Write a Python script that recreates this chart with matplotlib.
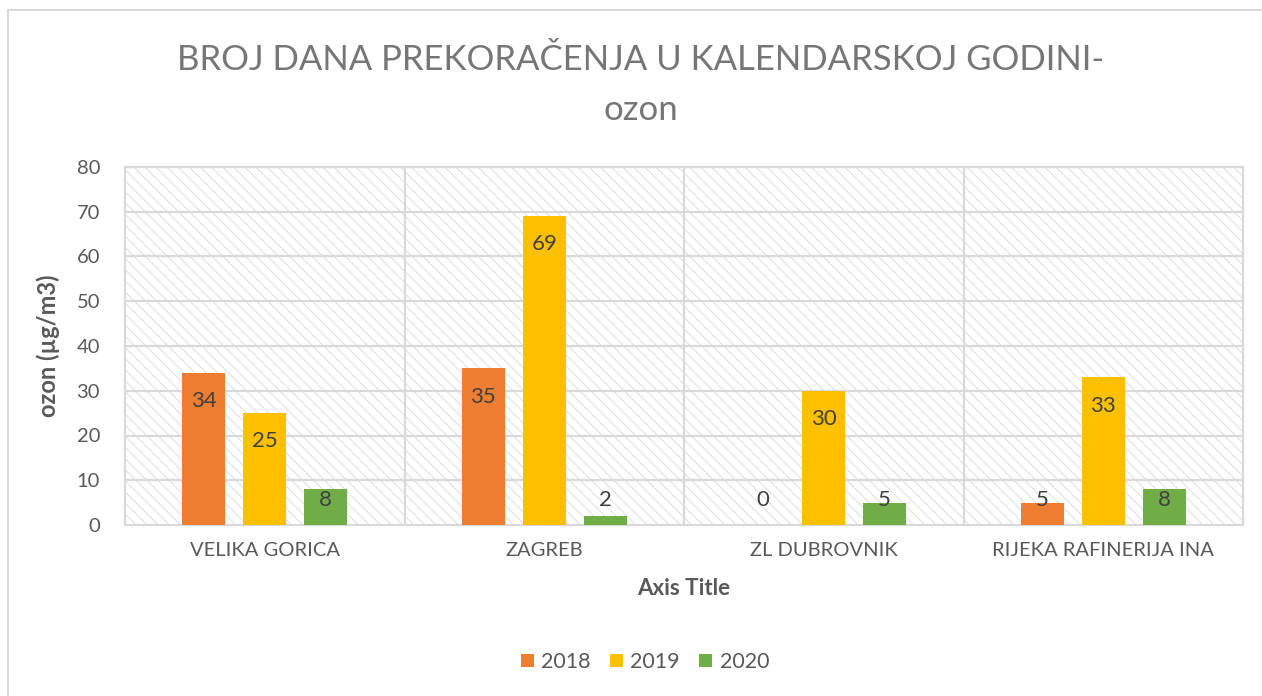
import matplotlib
matplotlib.use("Agg")
from matplotlib import pyplot as plt
from matplotlib.lines import Line2D
from matplotlib.patches import Rectangle
import numpy as np

# data
stations = ['VELIKA GORICA', 'ZAGREB', 'ZL DUBROVNIK', 'RIJEKA RAFINERIJA INA']
years = ['2018', '2019', '2020']
days_2018 = [34, 35, 0, 5]
days_2019 = [25, 69, 30, 33]
days_2020 = [8, 2, 5, 8]
colors = ['#ed7d31', '#ffc000', '#70ad47']

plt.rcParams['font.family'] = ['Lato', 'DejaVu Sans']
plt.rcParams['hatch.linewidth'] = 0.7

fig = plt.figure(figsize=(12.62, 6.96), dpi=100)
ax = fig.add_axes([125 / 1262, 1 - 525 / 696, 1118 / 1262, 358 / 696])

# hatched plot area like the Excel pattern fill
ax.add_patch(Rectangle((0, 0), 1, 1, transform=ax.transAxes, facecolor='white',
                       edgecolor='#dedede', hatch='\\\\\\', lw=0, zorder=0))

x = np.arange(len(stations))
offset = 0.218
width = 0.154
grey_text = '#595959'

for i, (vals, col) in enumerate(zip([days_2018, days_2019, days_2020], colors)):
    pos = x + (i - 1) * offset
    ax.bar(pos, vals, width=width, color=col, zorder=3, label=years[i])
    for px, v in zip(pos, vals):
        ax.text(px, max(v - 6.3, 5.5), str(v), ha='center', va='center',
                fontsize=16, color='#404040', zorder=4)

ax.set_xlim(-0.5, 3.5)
ax.set_ylim(0, 80)
ax.set_yticks(range(0, 81, 10))
ax.set_xticks(x)
ax.set_xticklabels(stations)
ax.tick_params(axis='both', length=0, labelsize=14.5, labelcolor=grey_text)
ax.tick_params(axis='x', pad=12)
ax.tick_params(axis='y', pad=18)

# grid: horizontal lines plus category separators
for yv in range(10, 81, 10):
    ax.axhline(yv, color='#d9d9d9', lw=1.6, zorder=1)
for xv in [0.5, 1.5, 2.5]:
    ax.axvline(xv, color='#d9d9d9', lw=1.6, zorder=1)
for s in ax.spines.values():
    s.set_color('#d9d9d9')
    s.set_linewidth(1.6)

ax.set_ylabel('ozon (µg/m3)', fontsize=17, fontweight='bold', color=grey_text)
ax.yaxis.set_label_coords(-(125 - 60) / 1118, 0.5)
ax.set_xlabel('Axis Title', fontsize=16, fontweight='bold', color=grey_text, labelpad=14)

fig.text(641 / 1262, 1 - 60 / 696, 'BROJ DANA PREKORAČENJA U KALENDARSKOJ GODINI-',
         ha='center', va='center', fontsize=25, color='#767676')
fig.text(641 / 1262, 1 - 110 / 696, 'ozon', ha='center', va='center', fontsize=25, color='#767676')

ax.legend(loc='center', bbox_to_anchor=(645 / 1262, 1 - 662 / 696), bbox_transform=fig.transFigure,
          ncol=3, frameon=False, fontsize=15.5, labelcolor=grey_text,
          handlelength=0.6, handleheight=0.6, handletextpad=0.35, columnspacing=0.9)

# chart border (top and left edges visible in the screenshot)
fig.add_artist(Line2D([8 / 1262, 1], [1 - 10 / 696, 1 - 10 / 696], color='#d9d9d9', lw=1.5))
fig.add_artist(Line2D([8 / 1262, 8 / 1262], [0, 1 - 10 / 696], color='#d9d9d9', lw=1.5))

fig.savefig('out.png', dpi=100)
